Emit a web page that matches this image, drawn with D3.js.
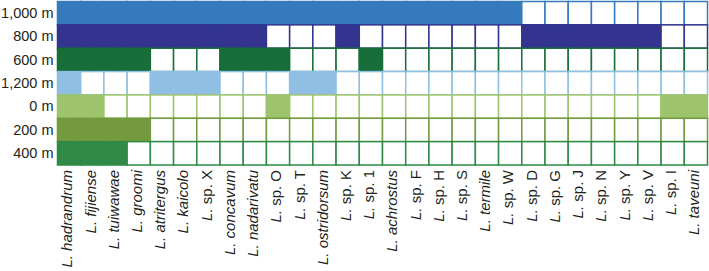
<!DOCTYPE html>
<html>
<meta charset="utf-8">
<style>
  body { margin: 0; padding: 0; background: #fff; }
  svg { display: block; }
  .axis text { font-family: "Liberation Sans", Arial, sans-serif; fill: #231f20; }
  .axis--y text { font-size: 14.5px; }
  .axis--x text { font-size: 15px; }
  .axis path, .axis line { display: none; }
</style>
<body>
<svg id="chart" width="709" height="271"></svg>
<script src="https://cdn.jsdelivr.net/npm/d3@7/dist/d3.min.js"></script>
<script>
// species (columns)
var species = ["hadrandrum", "fijiense", "tuiwawae", "groomi", "atritergus", "kaicolo",
  "sp. X", "concavum", "nadarivatu", "sp. O", "sp. T", "ostridorsum", "sp. K", "sp. 1",
  "achrostus", "sp. F", "sp. H", "sp. S", "termile", "sp. W", "sp. D", "sp. G", "sp. J",
  "sp. N", "sp. Y", "sp. V", "sp. I", "taveuni"];

// elevation rows, top to bottom
var elevations = ["1,000 m", "800 m", "600 m", "1,200 m", "0 m", "200 m", "400 m"];
var rowColors = ["#357abd", "#32348f", "#176e38", "#8fc0e4", "#9dc46c", "#739a3e", "#2e8a46"];

// presence (1) / absence (0) per species
var at1000 = [1,1,1,1,1,1,1,1,1,1,1,1,1,1,1,1,1,1,1,1,0,0,0,0,0,0,0,0];
var at800  = [1,1,1,1,1,1,1,1,1,0,0,0,1,0,0,0,0,0,0,0,1,1,1,1,1,1,0,0];
var at600  = [1,1,1,1,0,0,0,1,1,1,0,0,0,1,0,0,0,0,0,0,0,0,0,0,0,0,0,0];
var at1200 = [1,0,0,0,1,1,1,0,0,0,1,1,0,0,0,0,0,0,0,0,0,0,0,0,0,0,0,0];
var at0    = [1,1,0,0,0,0,0,0,0,1,0,0,0,0,0,0,0,0,0,0,0,0,0,0,0,0,1,1];
var at200  = [1,1,1,1,0,0,0,0,0,0,0,0,0,0,0,0,0,0,0,0,0,0,0,0,0,0,0,0];
var at400  = [1,1,1,0,0,0,0,0,0,0,0,0,0,0,0,0,0,0,0,0,0,0,0,0,0,0,0,0];

var presence = [at1000, at800, at600, at1200, at0, at200, at400];

var svg = d3.select("#chart");

var x = d3.scaleBand().domain(species).range([57.5, 707.5]);
var y = d3.scaleBand().domain(elevations).range([1.5, 165]);

var cells = [];
elevations.forEach(function(e, i) {
  species.forEach(function(s, j) {
    cells.push({elev: e, sp: s, on: presence[i][j], color: rowColors[i]});
  });
});

svg.append("g").selectAll("rect")
    .data(cells)
  .enter().append("rect")
    .attr("x", function(d) { return x(d.sp); })
    .attr("y", function(d) { return y(d.elev); })
    .attr("width", x.bandwidth())
    .attr("height", y.bandwidth())
    .attr("fill", function(d) { return d.on ? d.color : "#fff"; })
    .attr("stroke", function(d) { return d.color; })
    .attr("stroke-width", 1.5);

// row labels
svg.append("g")
    .attr("class", "axis axis--y")
    .attr("transform", "translate(57.5,0)")
    .call(d3.axisLeft(y).tickSize(0).tickPadding(4));

// species labels
var xAxis = svg.append("g")
    .attr("class", "axis axis--x")
    .attr("transform", "translate(0,165)")
    .call(d3.axisBottom(x).tickSize(0));

xAxis.selectAll(".tick text")
    .text(null)
    .attr("transform", "rotate(-90)")
    .attr("x", -5)
    .attr("y", 0)
    .attr("dy", "0.22em")
    .attr("text-anchor", "end")
    .each(function(d) {
      var t = d3.select(this);
      t.append("tspan").attr("font-style", "italic").text("L. ");
      t.append("tspan")
        .attr("font-style", d.indexOf("sp.") === 0 ? "normal" : "italic")
        .text(d);
    });
</script>
</body>
</html>
